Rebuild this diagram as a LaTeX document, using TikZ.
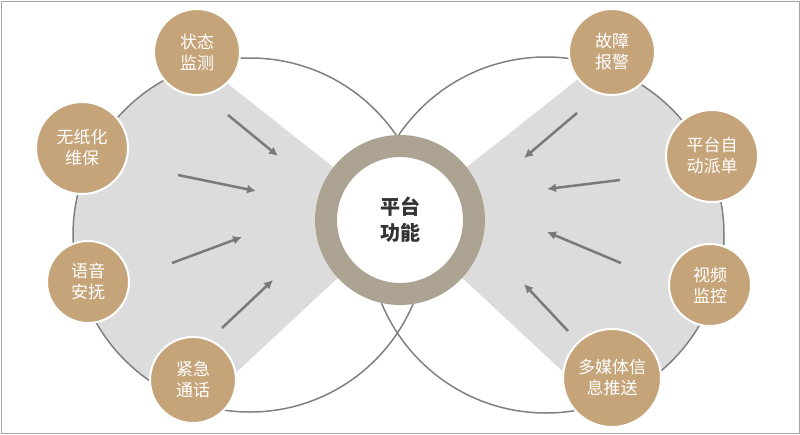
\documentclass[tikz,border=0pt]{standalone}
\usepackage{fontspec}
\setmainfont{Noto Sans CJK SC}
\begin{document}
\begin{tikzpicture}[x=1pt,y=-1pt,
  sat/.style={circle,fill=gold,draw=white,line width=2pt,text=white,font=\fontsize{17}{21}\selectfont,align=center,inner sep=0pt},
  arr/.style={draw=arrowgray,line width=2.5pt,-{Latex[length=9pt,width=9pt]}}]
\definecolor{gold}{HTML}{C6A47A}
\definecolor{ringc}{HTML}{ADA393}
\definecolor{fillg}{HTML}{DCDCDC}
\definecolor{arrowgray}{HTML}{7A7A7A}
\usetikzlibrary{arrows.meta}
\useasboundingbox (0,0) rectangle (800,434);
\draw[gray!70,line width=1pt] (1,1) rectangle (799,433);
\begin{scope}
\clip (250,235) circle (177);
\fill[fillg] (400,220) -- (160,30) -- (0,30) -- (0,434) -- (170,434) -- cycle;
\end{scope}
\begin{scope}
\clip (546,235) circle (178);
\fill[fillg] (400,220) -- (640,30) -- (800,30) -- (800,434) -- (630,434) -- cycle;
\end{scope}
\draw[gray,line width=1.5pt] (250,235) circle (177);
\draw[gray,line width=1.5pt] (546,235) circle (178);
\node[circle,fill=white,minimum size=170pt,inner sep=0pt] (c) at (400,220) {};
\draw[ringc,line width=22pt] (400,220) circle (74);
\node[font=\fontsize{20}{26}\selectfont\bfseries,text=black!80,align=center] (ct) at (400,220) {平台\\功能};
\node[sat,minimum size=86pt] (a1) at (197,52) {状态\\监测};
\node[sat,minimum size=92pt] (a2) at (82,148) {无纸化\\维保};
\node[sat,minimum size=82pt] (a3) at (88,282) {语音\\安抚};
\node[sat,minimum size=86pt] (a4) at (193,380) {紧急\\通话};
\node[sat,minimum size=86pt] (b1) at (612,52) {故障\\报警};
\node[sat,minimum size=92pt] (b2) at (712,156) {平台自\\动派单};
\node[sat,minimum size=82pt] (b3) at (710,285) {视频\\监控};
\node[sat,minimum size=98pt] (b4) at (612,378) {多媒体信\\息推送};
\coordinate (p1) at (228,115); \coordinate (q1) at (278,156);
\coordinate (p2) at (178,175); \coordinate (q2) at (256,191);
\coordinate (p3) at (172,263); \coordinate (q3) at (242,237);
\coordinate (p4) at (222,328); \coordinate (q4) at (273,280);
\coordinate (r1) at (577,113); \coordinate (s1) at (524,158);
\coordinate (r2) at (620,180); \coordinate (s2) at (547,189);
\coordinate (r3) at (621,263); \coordinate (s3) at (547,232);
\coordinate (r4) at (568,331); \coordinate (s4) at (524,284);
\foreach \i in {1,2,3,4}{\draw[arr] (p\i) -- (q\i); \draw[arr] (r\i) -- (s\i);}
\end{tikzpicture}
\end{document}
